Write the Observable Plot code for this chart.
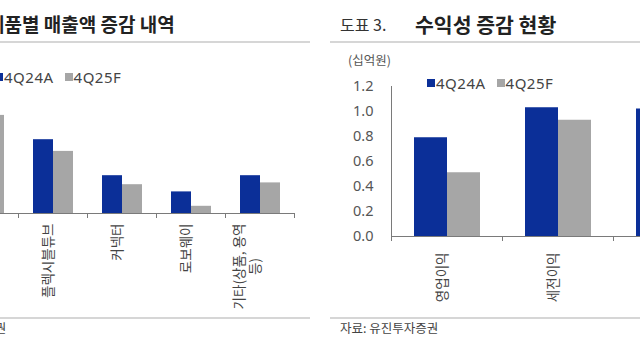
<!DOCTYPE html>
<html><head><meta charset="utf-8">
<script src="https://cdn.jsdelivr.net/npm/d3@7"></script>
<script src="https://cdn.jsdelivr.net/npm/@observablehq/plot@0.6"></script>
<style>
html,body{margin:0;padding:0;background:#fff;}
#page{position:relative;width:640px;height:360px;overflow:hidden;background:#fff;
  font-family:"Noto Sans","Noto Sans CJK KR",sans-serif;color:#333;}
.abs{position:absolute;white-space:nowrap;}
.rule{position:absolute;height:2px;background:#d6d6d6;}
.kr{font-family:"Noto Sans CJK KR",sans-serif;}
.legend{position:absolute;display:flex;align-items:center;gap:11px;font-size:15px;line-height:16px;color:#444;letter-spacing:0.5px;}
.legend .item{display:flex;align-items:center;gap:1px;}
.legend .sw{display:inline-block;width:8px;height:8px;}
svg{position:absolute;overflow:visible;}
</style>
</head><body>
<div id="page">
  <div class="abs kr" style="left:-13px;top:11px;font-size:19px;line-height:26px;font-weight:700;color:#222;">제품별 매출액 증감 내역</div>
  <div class="rule" style="left:0;width:310px;top:41px;"></div>
  <div class="abs kr" style="left:340px;top:12px;font-size:16px;line-height:24px;color:#333;">도표 3.</div>
  <div class="abs kr" style="left:415px;top:11px;font-size:20.5px;line-height:26px;font-weight:700;color:#222;">수익성 증감 현황</div>
  <div class="rule" style="left:330px;width:310px;top:41px;"></div>
  <div class="abs kr" style="left:348px;top:52px;font-size:12.5px;line-height:16px;color:#555;">(십억원)</div>
  <div id="legendL" class="legend" style="left:-5px;top:69px;"></div>
  <div id="legendR" class="legend" style="left:427px;top:75px;"></div>
  <div class="rule" style="left:0;width:310px;top:317px;"></div>
  <div class="rule" style="left:330px;width:310px;top:317px;"></div>
  <div class="abs kr" style="left:-92px;top:320px;font-size:12.5px;line-height:16px;color:#444;">자료: 유진투자증권</div>
  <div class="abs kr" style="left:340px;top:320px;font-size:12.5px;line-height:16px;color:#444;">자료: 유진투자증권</div>
</div>
<script>
// ---- data ----
const seriesNames = ["4Q24A", "4Q25F"];
const seriesColors = ["#0b2f98", "#a6a6a6"];

const leftCategories = ["디스플레이", "플렉시블튜브", "커넥터", "로보웨이", "기타(상품, 용역\n등)"];
const left4Q24A = [12.0, 8.2, 4.2, 2.4, 4.2];
const left4Q25F = [10.9, 6.9, 3.2, 0.8, 3.4];

const rightCategories = ["영업이익", "세전이익", "순이익"];
const right4Q24A = [0.79, 1.03, 1.02];
const right4Q25F = [0.51, 0.93, 0.90];
const rightYTicks = [0, 0.2, 0.4, 0.6, 0.8, 1.0, 1.2];

// ---- legends ----
function legend(id) {
  const el = document.getElementById(id);
  seriesNames.forEach((s, i) => {
    const item = document.createElement("span");
    item.className = "item";
    const sw = document.createElement("span");
    sw.className = "sw"; sw.style.background = seriesColors[i];
    const t = document.createElement("span"); t.textContent = s;
    item.appendChild(sw); item.appendChild(t); el.appendChild(item);
  });
}
legend("legendL"); legend("legendR");

// ---- charts ----
function groupedBars(o) {
  const rows = o.categories.flatMap((c, i) => [
    {cat: c, series: seriesNames[0], value: o.a[i]},
    {cat: c, series: seriesNames[1], value: o.f[i]}
  ]);
  const chart = Plot.plot({
    width: o.width, height: o.height,
    marginLeft: o.marginLeft, marginRight: o.marginRight,
    marginTop: o.marginTop, marginBottom: o.marginBottom,
    style: {background: "transparent", fontFamily: "'Noto Sans', 'Noto Sans CJK KR', sans-serif", fontSize: "14.5px", color: "#555"},
    fx: {domain: o.categories, padding: 0, axis: null},
    x: {domain: seriesNames, paddingInner: 0, paddingOuter: 0.67, axis: null},
    y: o.showY
      ? {domain: o.yDomain, ticks: o.yTicks, tickFormat: d3.format(".1f"), tickSize: 0, tickPadding: 18, label: null, axis: "left"}
      : {domain: o.yDomain, axis: null},
    color: {domain: seriesNames, range: seriesColors},
    marks: [
      Plot.barY(rows, {fx: "cat", x: "series", y: "value", fill: "series"}),
      Plot.text(o.categories, {fx: d => d, text: d => d, frameAnchor: "bottom", rotate: -90,
        textAnchor: "end", dy: o.labelGap, fontSize: 13.5, fill: "#444", lineHeight: 1.15,
        fontFamily: "Noto Sans CJK KR", className: "catlabel"})
    ]
  });
  const fx = chart.scale("fx"), y = chart.scale("y");
  const y0 = y.apply(0);
  const starts = o.categories.map(c => fx.apply(c));
  const bounds = [...starts, starts[starts.length - 1] + fx.bandwidth];
  const g = d3.select(chart).append("g").attr("stroke", "#7a7a7a").attr("stroke-width", 1).attr("shape-rendering", "crispEdges");
  g.append("line").attr("x1", bounds[0]).attr("x2", bounds[bounds.length - 1]).attr("y1", y0).attr("y2", y0);
  bounds.forEach(b => g.append("line").attr("x1", b).attr("x2", b).attr("y1", y0).attr("y2", y0 + 5));
  if (o.showY) g.append("line").attr("x1", bounds[0]).attr("x2", bounds[0]).attr("y1", y.apply(o.yDomain[1])).attr("y2", y0);
  chart.style.left = o.left + "px";
  chart.style.top = o.top + "px";
  document.getElementById("page").appendChild(chart);
  // centre wrapped lines of a category label against each other (Excel style)
  d3.select(chart).selectAll("text").each(function () {
    const spans = this.querySelectorAll("tspan");
    if (spans.length < 2) return;
    const lens = Array.from(spans, s => s.getComputedTextLength());
    const max = d3.max(lens);
    spans.forEach((s, i) => s.setAttribute("x", -(max - lens[i]) / 2));
  });
}

groupedBars({
  categories: leftCategories, a: left4Q24A, f: left4Q25F,
  yDomain: [0, 14], showY: false,
  width: 348, height: 252, marginLeft: 0, marginRight: 0, marginTop: 26, marginBottom: 100,
  labelGap: 10, left: -53, top: 61
});
groupedBars({
  categories: rightCategories, a: right4Q24A, f: right4Q25F,
  yDomain: [0, 1.2], yTicks: rightYTicks, showY: true,
  width: 403, height: 276, marginLeft: 60, marginRight: 10, marginTop: 26, marginBottom: 100,
  labelGap: 16, left: 331, top: 60
});
</script>
</body></html>
